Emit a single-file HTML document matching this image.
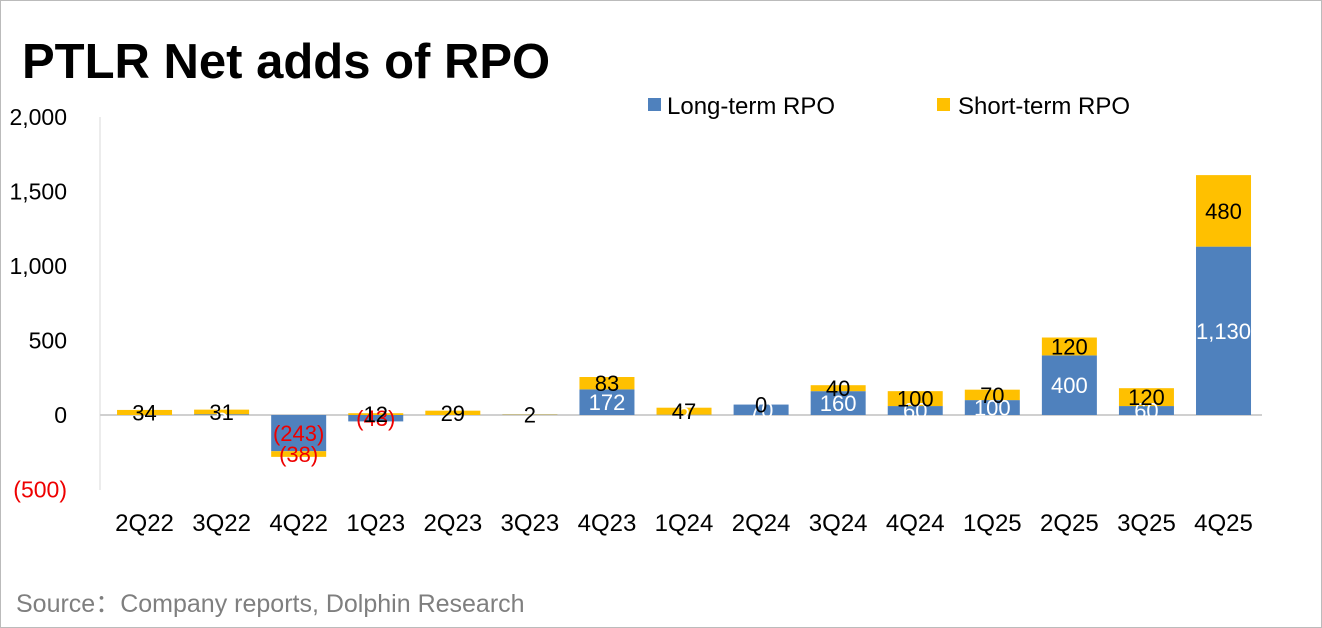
<!DOCTYPE html>
<html><head><meta charset="utf-8"><style>
html,body{margin:0;padding:0;background:#fff;}
body{width:1322px;height:628px;overflow:hidden;font-family:"Liberation Sans",sans-serif;}
#frame{position:absolute;left:0;top:0;width:1320px;height:626px;border:1px solid #bbb;}
</style></head><body>
<div id="frame"></div>
<svg id="chart" width="1322" height="628" style="position:absolute;left:0;top:0">
<text x="22" y="78" font-size="49" font-weight="bold" fill="#000">PTLR Net adds of RPO</text>
<rect x="648" y="98" width="13" height="13" fill="#4f81bd"/>
<text x="667" y="114" font-size="24" fill="#000">Long-term RPO</text>
<rect x="937" y="98" width="13" height="13" fill="#ffc000"/>
<text x="958" y="114" font-size="24" fill="#000">Short-term RPO</text>
<line x1="100" y1="117" x2="100" y2="490" stroke="#d9d9d9"/>
<text x="16" y="612" font-size="25" fill="#7f7f7f">Source：Company reports, Dolphin Research</text>
<g id="plot"></g>
</svg>
<script>
const categories=["2Q22","3Q22","4Q22","1Q23","2Q23","3Q23","4Q23","1Q24","2Q24","3Q24","4Q24","1Q25","2Q25","3Q25","4Q25"];
const longTerm=[0,5,-243,-43,0,2,172,2,70,160,60,100,400,60,1130];
const shortTerm=[34,31,-38,12,29,2,83,47,0,40,100,70,120,120,480];
const yTicks=[-500,0,500,1000,1500,2000];
const yTickLabels=["(500)","0","500","1,000","1,500","2,000"];
const NS="http://www.w3.org/2000/svg";
const g=document.getElementById('plot');
const y=v=>415-v*0.149;
const x0=106,bw=77.07,barW=55;
const xc=i=>x0+bw*(i+0.5);
function el(t,a){const e=document.createElementNS(NS,t);for(const k in a)e.setAttribute(k,a[k]);g.appendChild(e);return e;}
function fmt(v){const s=Math.abs(v).toLocaleString('en-US');return v<0?"("+s+")":s;}
yTicks.forEach((v,i)=>{const t=el('text',{x:67,y:y(v)+8,'font-size':23,'text-anchor':'end',fill:v<0?'#e00':'#000'});t.textContent=yTickLabels[i];

});
const zl=el('line',{x1:100,y1:y(0),x2:1262,y2:y(0),stroke:'#d0d0d0','stroke-width':2});


categories.forEach((c,i)=>{
 const L=longTerm[i],S=shortTerm[i];
 let lb=Math.min(0,L),lt=Math.max(0,L);
 const r1=el('rect',{x:xc(i)-barW/2,y:y(lt),width:barW,height:Math.max(0,y(lb)-y(lt)),fill:'#4f81bd'});
 
 
 let sb,st;
 if(S>=0){const base=L>0?L:0;sb=base;st=base+S;}else{const base=L<0?L:0;st=base;sb=base+S;}
 const r2=el('rect',{x:xc(i)-barW/2,y:y(st),width:barW,height:Math.max(0,y(sb)-y(st)),fill:'#ffc000'});
 
 
 const t1=el('text',{x:xc(i),y:y((lb+lt)/2)+8,'font-size':22,'text-anchor':'middle',fill:L<0?'#e00':'#fff'});
 t1.textContent=fmt(L);if(L===0)t1.textContent='';
 
 
 const t2=el('text',{x:xc(i),y:y((sb+st)/2)+8,'font-size':22,'text-anchor':'middle',fill:S<0?'#e00':'#000'});
 t2.textContent=fmt(S);
 
 
 const tx=el('text',{x:xc(i),y:531,'font-size':24,'text-anchor':'middle',fill:'#000'});
 tx.textContent=c;
 
 
});
</script>
</body></html>
